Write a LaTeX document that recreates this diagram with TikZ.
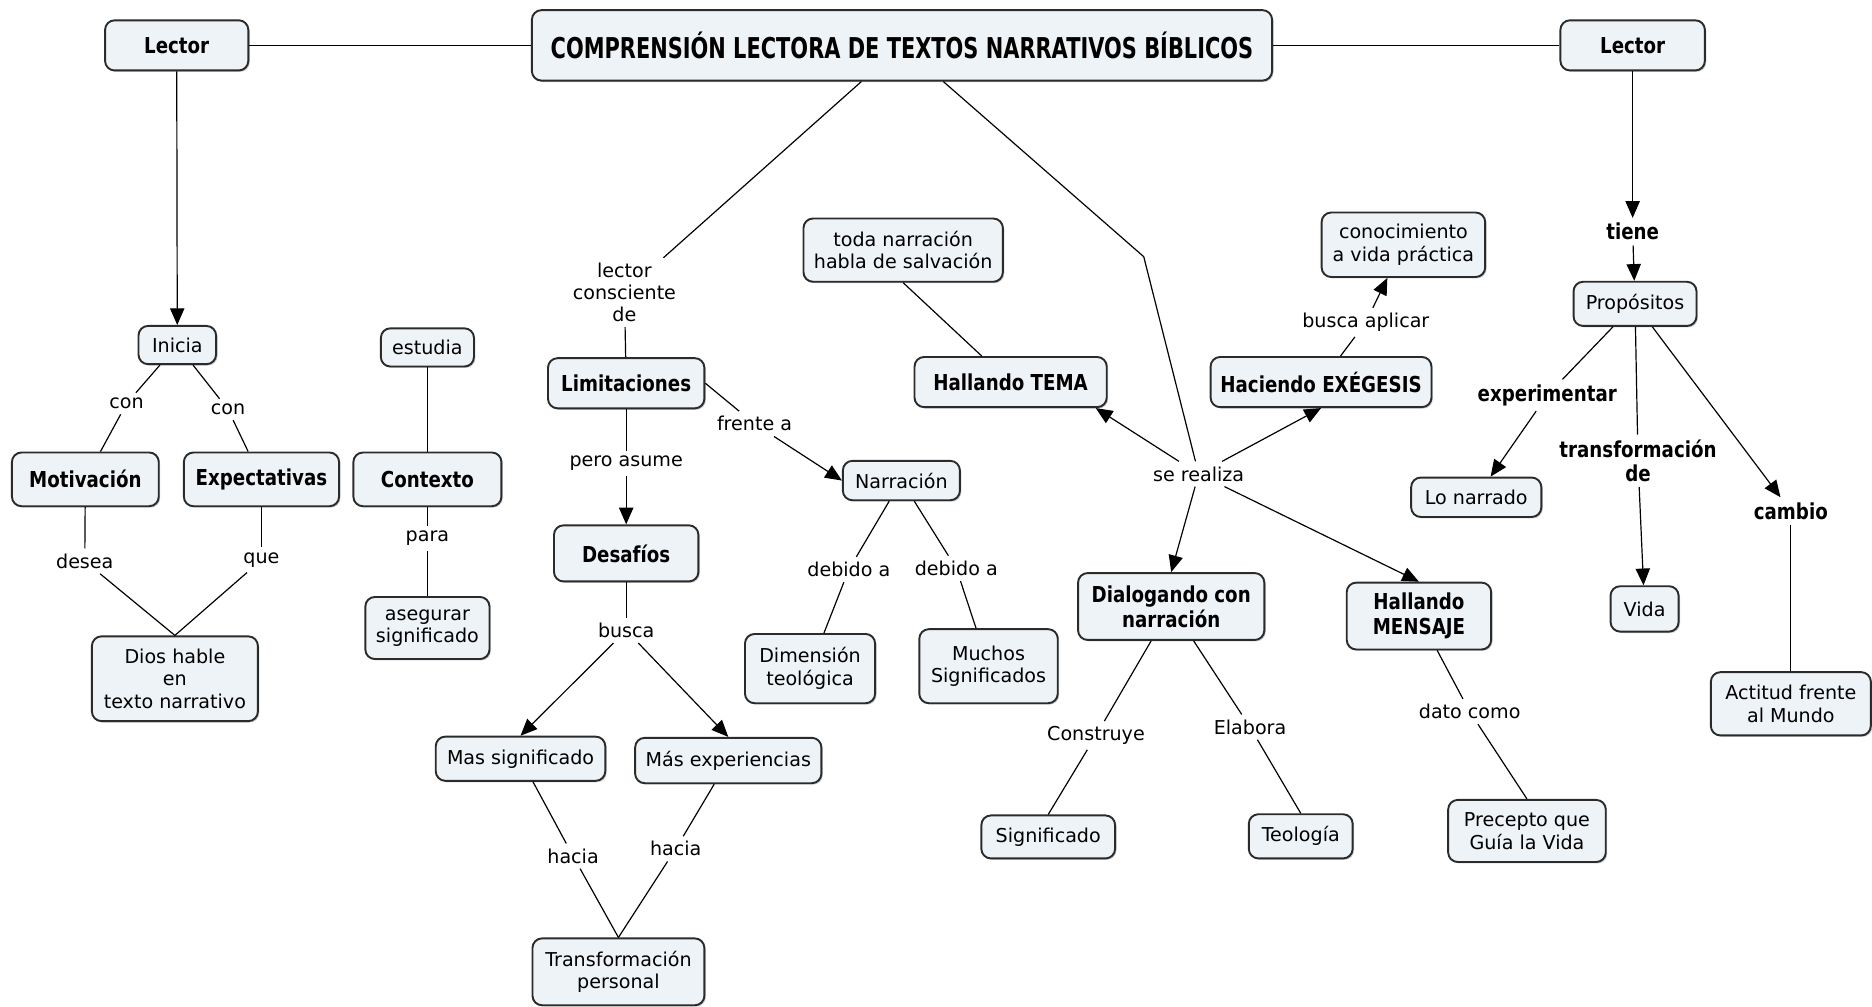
\documentclass[tikz,border=0pt]{standalone}
\usepackage{fontspec}
\setmainfont{DejaVu Sans}
\newfontfamily\narrowsans{DejaVu Sans}[FakeStretch=0.83]
\newfontfamily\titlesans{DejaVu Sans}[FakeStretch=0.73]
\usetikzlibrary{positioning,arrows.meta,shadows}
\definecolor{cmapfill}{HTML}{EDF3F6}
\definecolor{cmapline}{HTML}{2B2B2B}
\tikzset{
	concept/.style={draw=cmapline,line width=0.8pt,fill=cmapfill,rounded corners=4pt,
		align=center,inner sep=2pt,font=\fontsize{8}{9.5}\selectfont,
		drop shadow={shadow xshift=0.6pt,shadow yshift=-0.6pt,fill=black!40}},
	bconcept/.style={concept,font=\narrowsans\bfseries\fontsize{9.2}{10.5}\selectfont},
	link/.style={inner sep=2pt,align=center,font=\fontsize{8}{9.25}\selectfont},
	blink/.style={link,font=\narrowsans\bfseries\fontsize{9.2}{10}\selectfont},
	line/.style={draw=black,line width=0.5pt},
	arrow/.style={line,-{Triangle[length=7pt,width=6pt]}}
}

\begin{document}
\begin{tikzpicture}[x=0.5pt,y=-0.5pt]
	\useasboundingbox (0,0) rectangle (1568,843);
	% concepts
	\node[bconcept,font=\titlesans\bfseries\fontsize{12}{14}\selectfont,minimum width=310pt,minimum height=29.5pt] (title) at (755.5,38) {COMPRENSIÓN LECTORA DE TEXTOS NARRATIVOS BÍBLICOS};
	\node[bconcept,minimum width=60pt,minimum height=21pt] (lectorL) at (148,38) {Lector};
	\node[bconcept,minimum width=60.5pt,minimum height=21pt] (lectorR) at (1367.5,38) {Lector};
	\node[concept,minimum width=32.5pt,minimum height=16pt] (inicia) at (148.5,289) {Inicia};
	\node[bconcept,minimum width=61.5pt,minimum height=22.5pt] (motiv) at (71.5,401.5) {Motivación};
	\node[bconcept,minimum width=65pt,minimum height=22.5pt] (expect) at (219,401.5) {Expectativas};
	\node[concept,minimum width=69.5pt,minimum height=35.5pt] (dios) at (146.5,568.5) {Dios hable\\en\\texto narrativo};
	\node[concept,minimum width=39pt,minimum height=16pt] (estudia) at (358,291) {estudia};
	\node[bconcept,minimum width=62pt,minimum height=22.5pt] (contexto) at (358,401.5) {Contexto};
	\node[concept,minimum width=52pt,minimum height=26pt] (asegurar) at (358,526) {asegurar\\significado};
	\node[bconcept,minimum width=65.5pt,minimum height=21pt] (limit) at (524.5,321) {Limitaciones};
	\node[bconcept,minimum width=60.5pt,minimum height=23.5pt] (desafios) at (524.5,463.5) {Desafíos};
	\node[concept,minimum width=49pt,minimum height=16.5pt] (narracion) at (755,402.5) {Narración};
	\node[concept,minimum width=54.5pt,minimum height=29pt] (dimension) at (678.5,560) {Dimensión\\teológica};
	\node[concept,minimum width=58pt,minimum height=31pt] (muchos) at (828,558) {Muchos\\Significados};
	\node[concept,minimum width=71pt,minimum height=18.5pt] (massig) at (436,635.5) {Mas significado};
	\node[concept,minimum width=78pt,minimum height=19pt] (masexp) at (610,637) {Más experiencias};
	\node[concept,minimum width=72pt,minimum height=28pt] (transf) at (518,814) {Transformación\\personal};
	\node[concept,minimum width=83.5pt,minimum height=26.5pt] (toda) at (756.5,209.5) {toda narración\\habla de salvación};
	\node[bconcept,minimum width=80.5pt,minimum height=21pt] (htema) at (846.5,320) {Hallando TEMA};
	\node[bconcept,minimum width=92.5pt,minimum height=21pt] (hexeg) at (1106.5,320) {Haciendo EXÉGESIS};
	\node[concept,minimum width=68.5pt,minimum height=27pt] (conoc) at (1175.5,205) {conocimiento\\a vida práctica};
	\node[bconcept,minimum width=78pt,minimum height=28pt] (dialog) at (981,508) {Dialogando con\\narración};
	\node[bconcept,minimum width=60.5pt,minimum height=28pt] (hmensaje) at (1188.5,516) {Hallando\\MENSAJE};
	\node[concept,minimum width=56pt,minimum height=18pt] (signif) at (878,701) {Significado};
	\node[concept,minimum width=43.5pt,minimum height=18.5pt] (teologia) at (1089.5,700.5) {Teología};
	\node[concept,minimum width=66pt,minimum height=26pt] (precepto) at (1279,696) {Precepto que\\Guía la Vida};
	\node[concept,minimum width=51.5pt,minimum height=18.5pt] (propositos) at (1369.5,254.5) {Propósitos};
	\node[concept,minimum width=54.5pt,minimum height=16.5pt] (lonarrado) at (1236.5,416.5) {Lo narrado};
	\node[concept,minimum width=28.5pt,minimum height=19pt] (vida) at (1377.5,510) {Vida};
	\node[concept,minimum width=67pt,minimum height=26.5pt] (actitud) at (1500,589.5) {Actitud frente\\al Mundo};
	% linking phrases
	\node[link] (con1) at (106,338) {con};
	\node[link] (con2) at (191,343) {con};
	\node[link] (desea) at (71,470) {desea};
	\node[link] (que) at (219,469) {que};
	\node[link] (para) at (358,451) {para};
	\node[link] (lcd) at (523,245) {lector\\consciente\\de};
	\node[link] (peroasume) at (524.5,388) {pero asume};
	\node[link] (frente) at (632,355) {frente a};
	\node[link] (debido1) at (711,477) {debido a};
	\node[link] (debido2) at (801,476) {debido a};
	\node[link] (busca) at (524.5,528) {busca};
	\node[link] (hacia1) at (480,717) {hacia};
	\node[link] (hacia2) at (566,711) {hacia};
	\node[link] (serealiza) at (1004,397) {se realiza};
	\node[link] (buscaapl) at (1144,270) {busca aplicar};
	\node[link] (construye) at (918,616) {Construye};
	\node[link] (elabora) at (1047,609) {Elabora};
	\node[link] (datocomo) at (1231,596) {dato como};
	\node[blink] (tiene) at (1367.5,194) {tiene};
	\node[blink] (experimentar) at (1296,331) {experimentar};
	\node[blink] (transfde) at (1372,386) {transformación\\de};
	\node[blink] (cambio) at (1500,428) {cambio};
	\coordinate (bend) at (958,215);
	% connectors
	\path[line]
	(lectorL) edge (title)
	(title) edge (lectorR)
	(inicia) edge (con1) (con1) edge (motiv)
	(inicia) edge (con2) (con2) edge (expect)
	(motiv) edge (desea) (desea) edge (dios.north)
	(expect) edge (que) (que) edge (dios.north)
	(estudia) edge (contexto) (contexto) edge (para) (para) edge (asegurar)
	(title) edge (lcd) (lcd) edge (limit)
	(limit) edge (peroasume) (limit.east) edge (frente)
	(narracion) edge (debido1) (debido1) edge (dimension)
	(narracion) edge (debido2) (debido2) edge (muchos)
	(desafios) edge (busca)
	(massig) edge (hacia1) (hacia1) edge (transf.north)
	(masexp) edge (hacia2) (hacia2) edge (transf.north)
	(toda.south) edge (htema.138)
	(hexeg) edge (buscaapl)
	(dialog) edge (construye) (construye) edge (signif.north)
	(dialog) edge (elabora) (elabora) edge (teologia.north)
	(hmensaje) edge (datocomo) (datocomo) edge (precepto.north)
	(propositos) edge (experimentar)
	(propositos) edge (transfde)
	(cambio) edge (actitud);
	\draw[line] (title) -- (bend) -- (serealiza);
	\path[arrow]
	(lectorL) edge (inicia)
	(peroasume) edge (desafios)
	(frente) edge (narracion.west)
	(busca) edge (massig.north)
	(busca) edge (masexp.north)
	(serealiza) edge (htema.-17)
	(serealiza) edge (hexeg.south)
	(serealiza) edge (dialog.north)
	(serealiza) edge (hmensaje.north)
	(buscaapl) edge (conoc)
	(lectorR) edge (tiene)
	(tiene) edge (propositos)
	(experimentar) edge (lonarrado)
	(transfde) edge (vida)
	(propositos) edge (cambio);
\end{tikzpicture}
\end{document}
